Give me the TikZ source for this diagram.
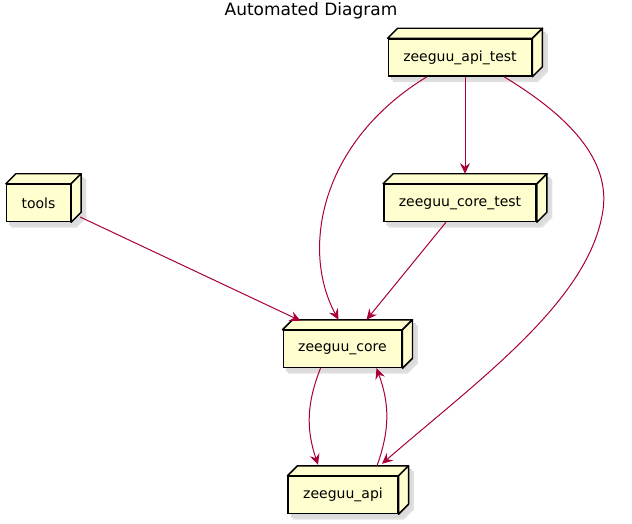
\documentclass[tikz,border=0pt]{standalone}
\usepackage{fontspec}
\setmainfont{DejaVu Sans}
\usetikzlibrary{arrows.meta, backgrounds, calc}
\definecolor{umlfill}{HTML}{FEFECE}
\definecolor{umlarrow}{HTML}{A80036}

\begin{document}
\begin{tikzpicture}[
    x=0.75pt, y=-0.75pt,
    box/.style={draw, line width=1.1pt, fill=umlfill, minimum height=27.75pt,
        inner xsep=11.25pt, inner ysep=0pt, font=\fontsize{10.5}{12}\selectfont},
    face/.style={draw, line width=1.1pt, fill=umlfill, line join=round},
    dep/.style={draw=umlarrow, line width=0.75pt,
        -{Stealth[length=8pt, width=7.5pt, inset=2.8pt]}}
]
    \useasboundingbox (0,0) rectangle (632,524);

    % Title
    \node[font=\fontsize{12.75}{15}\selectfont] (title) at (311,11) {Automated Diagram};

    % Nodes (front faces)
    \node[box] (apitest)  at (460,57.5) {zeeguu\_api\_test};
    \node[box] (tools)    at (38.5,203) {tools};
    \node[box] (coretest) at (460,203)  {zeeguu\_core\_test};
    \node[box] (core)     at (342.5,349) {zeeguu\_core};
    \node[box] (api)      at (343,495)  {zeeguu\_api};

    % Shadows (two soft layers)
    \begin{scope}[on background layer]
    \foreach \n in {apitest, tools, coretest, core, api} {
        \fill[black!12, transform canvas={xshift=4pt, yshift=-4pt}]
            (\n.north west) -- ++(10,-10) -- ($(\n.north east)+(10,-10)$)
            -- ($(\n.south east)+(10,-10)$) -- (\n.south east)
            -- (\n.south west) -- cycle;
        \fill[black!14, transform canvas={xshift=2.5pt, yshift=-2.5pt}]
            (\n.north west) -- ++(10,-10) -- ($(\n.north east)+(10,-10)$)
            -- ($(\n.south east)+(10,-10)$) -- (\n.south east)
            -- (\n.south west) -- cycle;
    }
    \end{scope}

    % Top and side faces
    \foreach \n in {apitest, tools, coretest, core, api} {
        \path[face] (\n.north west) -- ++(10,-10)
            -- ($(\n.north east)+(10,-10)$) -- (\n.north east) -- cycle;
        \path[face] (\n.north east) -- ++(10,-10)
            -- ($(\n.south east)+(10,-10)$) -- (\n.south east) -- cycle;
    }

    % Dependencies
    \coordinate (apibend) at (603,210);
    \draw[dep] ([shift={(-33,0)}]apitest.south) .. controls +(-107,65) and +(-38,-70)
        .. ([shift={(-4,-10)}]core.north);
    \draw[dep] ([shift={(5,0)}]apitest.south) -- ([shift={(5,-10)}]coretest.north);
    \draw[dep] ([shift={(44,0)}]apitest.south) .. controls +(66,40) and +(7,-50) .. (apibend)
        .. controls +(-13,90) and +(98,-85) .. ([shift={(39,-12)}]api.north);
    \draw[dep] ([shift={(9,14)}]tools.east) -- ([shift={(-42,-9)}]core.north);
    \draw[dep] ([shift={(-14,0)}]coretest.south) -- ([shift={(24,-10)}]core.north);
    \draw[dep] ([shift={(-22,0)}]core.south) to[bend right=20] ([shift={(-25,-11)}]api.north);
    \draw[dep] ([shift={(34,-10)}]api.north) to[bend right=20] ([shift={(34,0)}]core.south);
\end{tikzpicture}
\end{document}
